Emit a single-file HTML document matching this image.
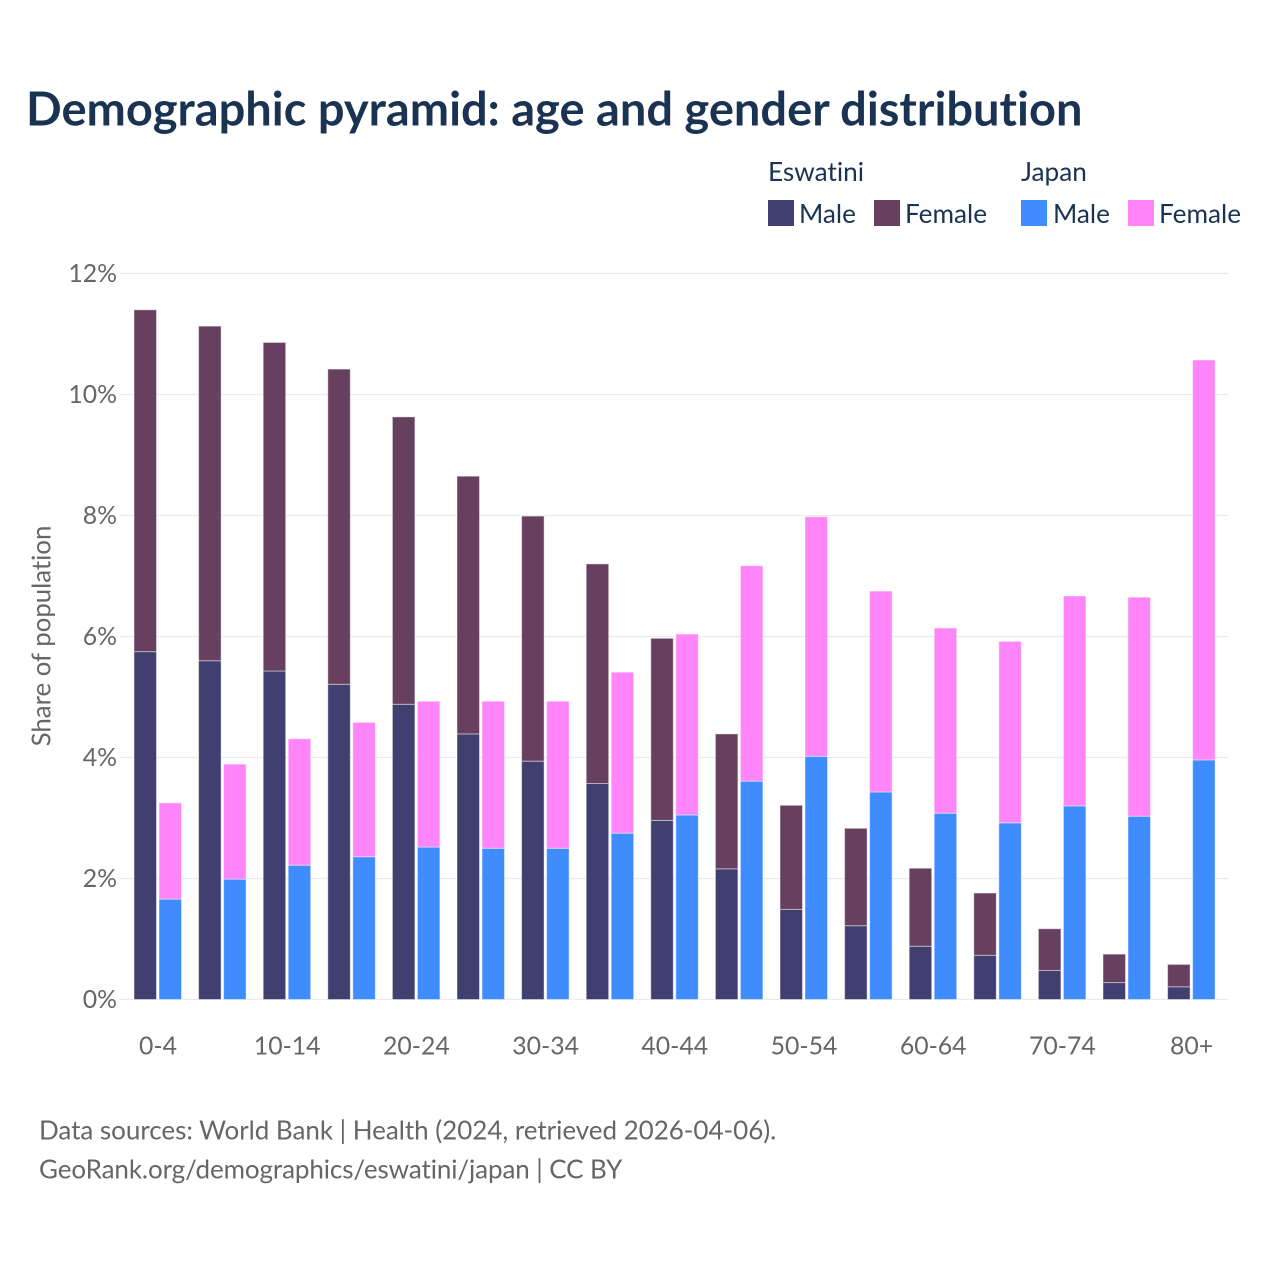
<!DOCTYPE html>
<html lang="en">
<head>
<meta charset="utf-8">
<title>Demographic pyramid</title>
<style>
html,body{margin:0;padding:0;background:#fff;}
svg{display:block;font-family:"Lato","Carlito","Liberation Sans",sans-serif;font-variant-ligatures:none;}
.tick{font-size:24.8px;fill:#666;}
.leg{font-size:26.2px;fill:#1a3352;}
.foot{font-size:26px;fill:#666;}
</style>
</head>
<body>
<svg id="chart" width="1280" height="1280" viewBox="0 0 1280 1280" xmlns="http://www.w3.org/2000/svg">
  <rect width="1280" height="1280" fill="#fff"/>
  <text x="26" y="125.6" font-size="47" font-weight="700" fill="#1a3352">Demographic pyramid: age and gender distribution</text>

  <g>
    <text class="leg" x="768" y="181">Eswatini</text>
    <text class="leg" x="1021" y="181">Japan</text>
    <rect x="768" y="200" width="26" height="26" fill="#413f70"/>
    <text class="leg" x="799" y="223">Male</text>
    <rect x="874" y="200" width="26" height="26" fill="#67405f"/>
    <text class="leg" x="905" y="223">Female</text>
    <rect x="1021" y="200" width="26" height="26" fill="#3f8cff"/>
    <text class="leg" x="1053" y="223">Male</text>
    <rect x="1128" y="200" width="26" height="26" fill="#ff85f9"/>
    <text class="leg" x="1159" y="223">Female</text>
  </g>

  <g id="grid"></g>
  <g id="yticks"></g>
  <g id="bars"></g>
  <g id="xticks"></g>

  <text class="tick" style="font-size:25.8px" transform="translate(50.5,636) rotate(-90)" text-anchor="middle">Share of population</text>

  <text class="foot" style="letter-spacing:-0.03px" x="39" y="1139.7">Data sources: World Bank | Health (2024, retrieved 2026-04-06).</text>
  <text class="foot" style="letter-spacing:-0.1px" x="39" y="1178.7">GeoRank.org/demographics/eswatini/japan | CC BY</text>
</svg>
<script>
const categories = ["0-4","5-9","10-14","15-19","20-24","25-29","30-34","35-39","40-44","45-49","50-54","55-59","60-64","65-69","70-74","75-79","80+"];
const eswatiniMale = [5.75,5.60,5.43,5.21,4.88,4.39,3.94,3.57,2.96,2.16,1.49,1.22,0.88,0.73,0.48,0.28,0.21];
const eswatiniFemale = [5.65,5.53,5.43,5.21,4.75,4.26,4.05,3.63,3.01,2.23,1.72,1.61,1.29,1.03,0.69,0.47,0.37];
const japanMale = [1.66,1.99,2.22,2.36,2.52,2.50,2.50,2.75,3.05,3.61,4.02,3.43,3.08,2.92,3.20,3.03,3.96];
const japanFemale = [1.59,1.90,2.09,2.22,2.41,2.43,2.43,2.66,2.99,3.56,3.96,3.32,3.06,3.00,3.47,3.62,6.61];
const yTicks = [0,2,4,6,8,10,12];

const NS = "http://www.w3.org/2000/svg";
function yScale(v){ return 999.5 - v * 60.5; }
function xBand(i){ return 158 + i * 64.6; }

function make(tag, attrs, parent){
  const el = document.createElementNS(NS, tag);
  for (const k in attrs) el.setAttribute(k, attrs[k]);
  parent.appendChild(el);
  return el;
}

const grid = document.getElementById("grid");
const yt = document.getElementById("yticks");
yTicks.forEach(function(t){
  const line = make("line", {x1:120, x2:1228, y1:yScale(t), y2:yScale(t), stroke:"#ebebeb", "stroke-width":1.2}, grid);
  
  
  const label = make("text", {x:117, y:yScale(t)+8.5, "text-anchor":"end", class:"tick"}, yt);
  label.textContent = t + "%";
  
  
});

const barsG = document.getElementById("bars");
function drawBar(x, base, val, fill){
  const top = yScale(base + val);
  const r = make("rect", {x:x, y:top, width:22.5, height:yScale(base) - top, fill:fill, stroke:"#ffffff", "stroke-opacity":0.45, "stroke-width":1}, barsG);
  
  
}
categories.forEach(function(c, i){
  const cx = xBand(i);
  drawBar(cx - 24, 0, eswatiniMale[i], "#413f70");
  drawBar(cx - 24, eswatiniMale[i], eswatiniFemale[i], "#67405f");
  drawBar(cx + 1, 0, japanMale[i], "#3f8cff");
  drawBar(cx + 1, japanMale[i], japanFemale[i], "#ff85f9");
});

const xt = document.getElementById("xticks");
categories.forEach(function(c, i){
  if (i % 2 !== 0) return;
  const label = make("text", {x:xBand(i), y:1054.6, "text-anchor":"middle", class:"tick"}, xt);
  label.textContent = c;
  
  
});
</script>
</body>
</html>
